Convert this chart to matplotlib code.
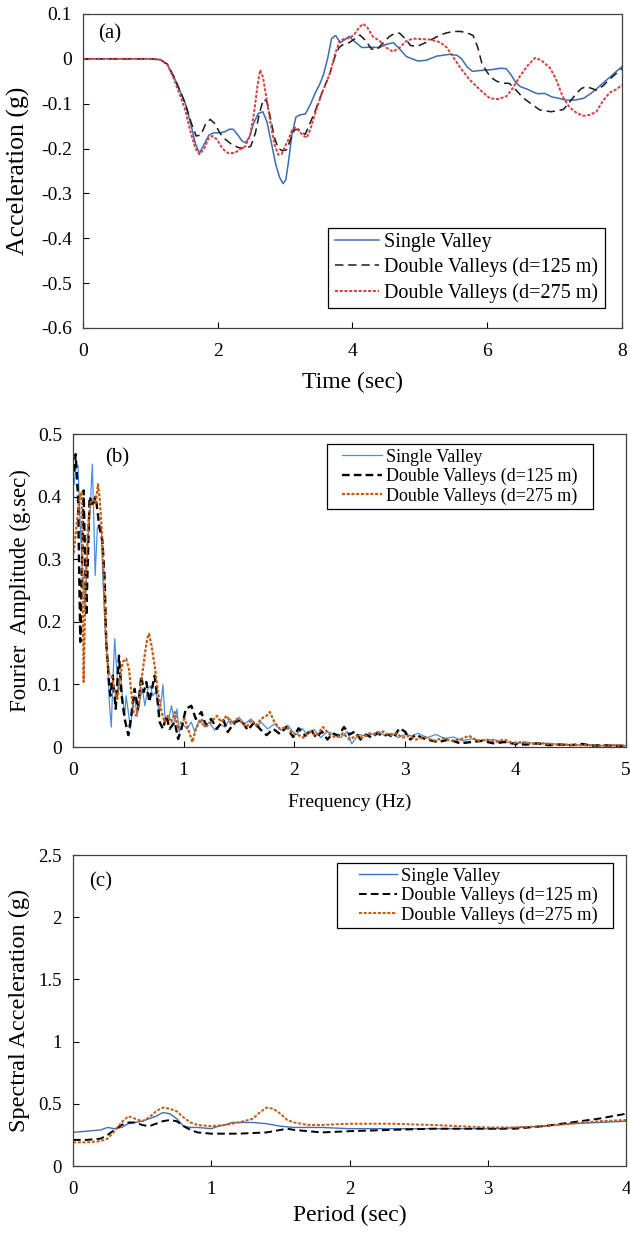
import matplotlib
matplotlib.use("Agg")
import matplotlib.pyplot as plt
from matplotlib.lines import Line2D
from matplotlib.legend_handler import HandlerLine2D

plt.rcParams.update({
    "font.family": ["Liberation Serif", "DejaVu Serif"],
    "lines.scale_dashes": False,
    "axes.linewidth": 0.9,
    "axes.edgecolor": "#404040",
})

LABELS = ["Single Valley", "Double Valleys (d=125 m)", "Double Valleys (d=275 m)"]

# ---------------------------------------------------------------- (a) time history
t_single = [0, 1.0, 1.15, 1.25, 1.35, 1.45, 1.52, 1.6, 1.67, 1.73, 1.8, 1.87, 1.94, 2.02, 2.1,
            2.17, 2.23, 2.3, 2.36, 2.41, 2.47, 2.53, 2.6, 2.67, 2.73, 2.8, 2.86, 2.92, 2.97, 3.01,
            3.05, 3.1, 3.16, 3.22, 3.3, 3.38, 3.45, 3.51, 3.57, 3.63, 3.69, 3.75, 3.82, 3.88, 3.95,
            4.02, 4.14, 4.27, 4.4, 4.5, 4.61, 4.7, 4.8, 4.97, 5.1, 5.25, 5.44, 5.55, 5.62, 5.7,
            5.78, 5.9, 6.07, 6.2, 6.28, 6.35, 6.42, 6.49, 6.6, 6.68, 6.75, 6.85, 6.96, 7.06, 7.16,
            7.3, 7.43, 7.53, 7.63, 7.75, 7.88, 8.0]
a_single = [0, 0, -0.002, -0.012, -0.04, -0.075, -0.1, -0.145, -0.19, -0.21, -0.19, -0.17, -0.165,
            -0.165, -0.163, -0.157, -0.157, -0.17, -0.183, -0.187, -0.175, -0.145, -0.122, -0.118,
            -0.14, -0.19, -0.235, -0.265, -0.278, -0.27, -0.23, -0.17, -0.13, -0.125, -0.123, -0.1,
            -0.075, -0.058, -0.035, 0.0, 0.045, 0.052, 0.036, 0.042, 0.05, 0.04, 0.025, 0.026, 0.025,
            0.032, 0.036, 0.022, 0.005, -0.005, -0.003, 0.006, 0.01, 0.008, 0.0, -0.018, -0.028,
            -0.026, -0.024, -0.021, -0.022, -0.035, -0.052, -0.062, -0.068, -0.074, -0.078, -0.077,
            -0.085, -0.088, -0.092, -0.092, -0.088, -0.078, -0.066, -0.05, -0.033, -0.017]

t_d125 = [0, 1.0, 1.15, 1.25, 1.35, 1.45, 1.52, 1.6, 1.68, 1.75, 1.82, 1.89, 1.96, 2.03, 2.1, 2.2,
          2.31, 2.4, 2.49, 2.56, 2.62, 2.68, 2.73, 2.78, 2.84, 2.9, 2.96, 3.02, 3.08, 3.14, 3.2,
          3.25, 3.3, 3.38, 3.45, 3.51, 3.59, 3.67, 3.74, 3.8, 3.87, 3.95, 4.04, 4.11, 4.2, 4.28,
          4.36, 4.45, 4.55, 4.63, 4.7, 4.78, 4.86, 4.95, 5.07, 5.2, 5.3, 5.4, 5.5, 5.6, 5.7, 5.79,
          5.86, 5.92, 5.99, 6.06, 6.14, 6.23, 6.33, 6.43, 6.53, 6.65, 6.78, 6.95, 7.13, 7.23, 7.33,
          7.4, 7.47, 7.55, 7.62, 7.72, 7.82, 7.92, 8.0]
a_d125 = [0, 0, -0.002, -0.012, -0.04, -0.075, -0.1, -0.14, -0.172, -0.17, -0.145, -0.135, -0.145,
          -0.165, -0.178, -0.19, -0.198, -0.2, -0.195, -0.165, -0.12, -0.09, -0.095, -0.13, -0.175,
          -0.2, -0.205, -0.203, -0.18, -0.158, -0.157, -0.165, -0.168, -0.14, -0.115, -0.09, -0.06,
          -0.03, 0.005, 0.025, 0.033, 0.036, 0.045, 0.053, 0.04, 0.022, 0.02, 0.035, 0.05, 0.057,
          0.057, 0.045, 0.03, 0.027, 0.035, 0.045, 0.053, 0.058, 0.061, 0.061, 0.058, 0.052, 0.025,
          -0.01, -0.028, -0.042, -0.05, -0.054, -0.055, -0.07, -0.087, -0.1, -0.114, -0.118,
          -0.113, -0.095, -0.076, -0.066, -0.062, -0.066, -0.07, -0.06, -0.045, -0.032, -0.022]

t_d275 = [0, 1.0, 1.15, 1.25, 1.35, 1.45, 1.52, 1.6, 1.67, 1.73, 1.8, 1.86, 1.92, 1.99, 2.07, 2.15,
          2.25, 2.35, 2.41, 2.48, 2.54, 2.59, 2.63, 2.67, 2.72, 2.78, 2.84, 2.9, 2.95, 3.0, 3.05,
          3.1, 3.15, 3.2, 3.26, 3.32, 3.38, 3.46, 3.55, 3.62, 3.67, 3.74, 3.81, 3.9, 3.96, 4.03,
          4.1, 4.16, 4.22, 4.3, 4.41, 4.5, 4.6, 4.7, 4.8, 4.9, 5.02, 5.15, 5.3, 5.4, 5.49, 5.6,
          5.74, 5.9, 6.04, 6.16, 6.29, 6.38, 6.48, 6.6, 6.71, 6.8, 6.93, 7.02, 7.12, 7.22, 7.33,
          7.43, 7.52, 7.62, 7.72, 7.82, 7.92, 8.0]
a_d275 = [0, 0, -0.002, -0.012, -0.045, -0.085, -0.115, -0.165, -0.2, -0.213, -0.2, -0.178, -0.172,
          -0.18, -0.2, -0.21, -0.21, -0.2, -0.195, -0.17, -0.12, -0.06, -0.025, -0.04, -0.085,
          -0.14, -0.19, -0.214, -0.212, -0.195, -0.18, -0.16, -0.153, -0.16, -0.17, -0.176, -0.155,
          -0.115, -0.075, -0.05, -0.03, 0.01, 0.04, 0.046, 0.046, 0.055, 0.07, 0.078, 0.07, 0.05,
          0.039, 0.025, 0.016, 0.025, 0.04, 0.045, 0.044, 0.043, 0.037, 0.025, 0.005, -0.02,
          -0.047, -0.07, -0.088, -0.09, -0.083, -0.065, -0.04, -0.015, 0.002, -0.003, -0.02,
          -0.045, -0.084, -0.108, -0.121, -0.127, -0.125, -0.118, -0.093, -0.075, -0.068, -0.058]

# ---------------------------------------------------------------- (b) Fourier amplitude
f_single = [0.01, 0.024, 0.045, 0.066, 0.084, 0.108, 0.133, 0.157, 0.175, 0.19, 0.2, 0.22, 0.235,
            0.256, 0.27, 0.29, 0.31, 0.33, 0.346, 0.36, 0.377, 0.39, 0.41, 0.428, 0.446, 0.467,
            0.48, 0.5, 0.52, 0.536, 0.557, 0.578, 0.6, 0.626, 0.65, 0.675, 0.7, 0.72, 0.75, 0.777,
            0.8, 0.813, 0.83, 0.86, 0.89, 0.92, 0.94, 0.96, 0.99, 1.03, 1.07, 1.1, 1.14, 1.19,
            1.23, 1.28, 1.33, 1.37, 1.42, 1.46, 1.5, 1.55, 1.61, 1.66, 1.7, 1.76, 1.82, 1.88, 1.94,
            1.99, 2.02, 2.07, 2.12, 2.18, 2.24, 2.3, 2.36, 2.42, 2.48, 2.52, 2.58, 2.64, 2.7, 2.76,
            2.82, 2.88, 2.94, 3.0, 3.06, 3.12, 3.2, 3.28, 3.36, 3.44, 3.52, 3.6, 3.7, 3.8, 3.9,
            4.0, 4.1, 4.2, 4.3, 4.4, 4.5, 4.6, 4.7, 4.8, 4.9, 5.0]
A_single = [0.42, 0.444, 0.45, 0.35, 0.285, 0.22, 0.32, 0.39, 0.452, 0.35, 0.274, 0.35, 0.356,
            0.348, 0.27, 0.19, 0.14, 0.066, 0.032, 0.104, 0.173, 0.136, 0.088, 0.12, 0.082, 0.05,
            0.082, 0.056, 0.029, 0.061, 0.082, 0.05, 0.072, 0.093, 0.066, 0.093, 0.098, 0.082,
            0.088, 0.056, 0.077, 0.1, 0.05, 0.04, 0.066, 0.04, 0.061, 0.024, 0.037, 0.029, 0.04,
            0.024, 0.043, 0.032, 0.04, 0.027, 0.037, 0.032, 0.045, 0.035, 0.048, 0.037, 0.045,
            0.032, 0.04, 0.029, 0.037, 0.027, 0.035, 0.024, 0.02, 0.03, 0.02, 0.028, 0.015, 0.025,
            0.02, 0.015, 0.025, 0.005, 0.02, 0.018, 0.02, 0.025, 0.018, 0.022, 0.015, 0.02, 0.018,
            0.022, 0.015, 0.02, 0.014, 0.016, 0.01, 0.013, 0.01, 0.012, 0.008, 0.006, 0.008, 0.005,
            0.006, 0.004, 0.004, 0.003, 0.004, 0.002, 0.003, 0.002]

f_d125 = [0.01, 0.024, 0.045, 0.066, 0.096, 0.12, 0.15, 0.18, 0.205, 0.24, 0.265, 0.286, 0.3,
          0.325, 0.337, 0.36, 0.386, 0.416, 0.44, 0.467, 0.5, 0.527, 0.557, 0.587, 0.617, 0.64,
          0.663, 0.69, 0.738, 0.76, 0.783, 0.813, 0.843, 0.873, 0.92, 0.95, 0.98, 1.02, 1.07,
          1.11, 1.16, 1.2, 1.25, 1.3, 1.36, 1.4, 1.46, 1.52, 1.58, 1.64, 1.69, 1.75, 1.81, 1.87,
          1.93, 1.99, 2.04, 2.1, 2.15, 2.2, 2.25, 2.3, 2.35, 2.4, 2.45, 2.5, 2.55, 2.6, 2.65, 2.7,
          2.75, 2.8, 2.85, 2.9, 2.95, 3.0, 3.05, 3.1, 3.15, 3.2, 3.3, 3.4, 3.5, 3.6, 3.7, 3.8,
          3.9, 4.0, 4.1, 4.2, 4.3, 4.4, 4.5, 4.6, 4.7, 4.8, 4.9, 5.0]
A_d125 = [0.44, 0.468, 0.40, 0.168, 0.41, 0.21, 0.40, 0.385, 0.40, 0.35, 0.33, 0.27, 0.17, 0.104,
          0.082, 0.114, 0.061, 0.146, 0.082, 0.045, 0.019, 0.05, 0.093, 0.061, 0.114, 0.088,
          0.104, 0.072, 0.114, 0.082, 0.04, 0.029, 0.05, 0.029, 0.04, 0.013, 0.029, 0.061, 0.066,
          0.045, 0.056, 0.035, 0.045, 0.029, 0.043, 0.024, 0.04, 0.043, 0.027, 0.04, 0.029, 0.019,
          0.029, 0.021, 0.032, 0.016, 0.03, 0.018, 0.028, 0.015, 0.025, 0.012, 0.022, 0.018, 0.032,
          0.02, 0.025, 0.012, 0.02, 0.015, 0.022, 0.018, 0.02, 0.015, 0.03, 0.025, 0.012, 0.02,
          0.015, 0.012, 0.008, 0.012, 0.006, 0.008, 0.01, 0.006, 0.008, 0.005, 0.004, 0.006,
          0.003, 0.004, 0.003, 0.005, 0.002, 0.003, 0.002, 0.002]

f_d275 = [0.006, 0.03, 0.06, 0.078, 0.096, 0.114, 0.135, 0.157, 0.18, 0.205, 0.226, 0.24, 0.265,
          0.286, 0.307, 0.33, 0.355, 0.377, 0.4, 0.42, 0.45, 0.48, 0.506, 0.527, 0.548, 0.572,
          0.596, 0.617, 0.648, 0.67, 0.687, 0.71, 0.738, 0.768, 0.8, 0.828, 0.858, 0.889, 0.92,
          0.95, 0.98, 1.01, 1.04, 1.08, 1.11, 1.16, 1.2, 1.25, 1.3, 1.34, 1.39, 1.43, 1.48, 1.52,
          1.57, 1.61, 1.66, 1.7, 1.75, 1.78, 1.82, 1.87, 1.93, 1.99, 2.03, 2.08, 2.14, 2.2, 2.26,
          2.32, 2.38, 2.44, 2.5, 2.56, 2.62, 2.68, 2.74, 2.8, 2.86, 2.92, 2.98, 3.04, 3.1, 3.18,
          3.26, 3.34, 3.42, 3.5, 3.58, 3.66, 3.74, 3.82, 3.9, 3.98, 4.06, 4.15, 4.25, 4.35, 4.45,
          4.55, 4.65, 4.75, 4.85, 5.0]
A_d275 = [0.31, 0.35, 0.40, 0.407, 0.104, 0.27, 0.35, 0.39, 0.396, 0.39, 0.42, 0.40, 0.332, 0.231,
          0.141, 0.114, 0.112, 0.088, 0.077, 0.104, 0.136, 0.141, 0.125, 0.088, 0.056, 0.05, 0.066,
          0.104, 0.146, 0.173, 0.181, 0.162, 0.13, 0.088, 0.056, 0.04, 0.05, 0.04, 0.056, 0.029,
          0.04, 0.045, 0.029, 0.008, 0.029, 0.045, 0.032, 0.04, 0.05, 0.04, 0.05, 0.037, 0.045,
          0.04, 0.032, 0.043, 0.035, 0.045, 0.05, 0.056, 0.04, 0.029, 0.032, 0.021, 0.02, 0.015,
          0.025, 0.018, 0.032, 0.02, 0.015, 0.022, 0.012, 0.018, 0.015, 0.022, 0.02, 0.025, 0.018,
          0.022, 0.015, 0.018, 0.012, 0.016, 0.01, 0.014, 0.01, 0.012, 0.018, 0.01, 0.012, 0.008,
          0.012, 0.006, 0.008, 0.005, 0.006, 0.004, 0.004, 0.003, 0.003, 0.002, 0.003, 0.002]

# ---------------------------------------------------------------- (c) response spectra
T_single = [0, 0.1, 0.2, 0.25, 0.3, 0.35, 0.4, 0.45, 0.5, 0.55, 0.6, 0.65, 0.7, 0.75, 0.8, 0.85,
            0.9, 1.0, 1.05, 1.1, 1.15, 1.2, 1.3, 1.4, 1.5, 1.6, 1.8, 2.0, 2.3, 2.6, 2.9, 3.1, 3.2,
            3.4, 3.6, 3.8, 4.0]
Sa_single = [0.27, 0.28, 0.29, 0.31, 0.30, 0.31, 0.34, 0.35, 0.36, 0.38, 0.40, 0.43, 0.42, 0.38,
             0.32, 0.31, 0.31, 0.30, 0.32, 0.33, 0.35, 0.35, 0.35, 0.34, 0.32, 0.31, 0.31, 0.30,
             0.30, 0.30, 0.30, 0.30, 0.31, 0.32, 0.34, 0.35, 0.36]

T_d125 = [0, 0.1, 0.2, 0.25, 0.3, 0.35, 0.4, 0.45, 0.5, 0.55, 0.6, 0.65, 0.7, 0.75, 0.8, 0.85, 0.9,
          1.0, 1.2, 1.4, 1.5, 1.55, 1.6, 1.7, 1.8, 2.0, 2.3, 2.6, 3.0, 3.2, 3.4, 3.6, 3.8, 4.0]
Sa_d125 = [0.21, 0.21, 0.22, 0.25, 0.29, 0.33, 0.35, 0.35, 0.33, 0.32, 0.34, 0.36, 0.37, 0.36,
           0.32, 0.29, 0.27, 0.26, 0.26, 0.27, 0.29, 0.30, 0.29, 0.28, 0.27, 0.28, 0.29, 0.30,
           0.30, 0.30, 0.32, 0.35, 0.38, 0.42]

T_d275 = [0, 0.1, 0.2, 0.25, 0.3, 0.35, 0.4, 0.45, 0.5, 0.55, 0.6, 0.65, 0.7, 0.75, 0.8, 0.85, 0.9,
          1.0, 1.1, 1.2, 1.3, 1.35, 1.4, 1.45, 1.5, 1.55, 1.6, 1.7, 1.8, 2.0, 2.3, 2.6, 3.0, 3.2,
          3.4, 3.6, 3.8, 4.0]
Sa_d275 = [0.19, 0.19, 0.20, 0.22, 0.28, 0.35, 0.40, 0.38, 0.36, 0.39, 0.44, 0.47, 0.46, 0.44,
           0.39, 0.35, 0.33, 0.32, 0.33, 0.35, 0.38, 0.43, 0.47, 0.46, 0.42, 0.37, 0.35, 0.33,
           0.33, 0.34, 0.34, 0.33, 0.31, 0.31, 0.32, 0.34, 0.36, 0.37]


def style_axes(ax, tick_fs):
    ax.tick_params(direction="in", length=4, width=0.8, labelsize=tick_fs, colors="black")
    ax.tick_params(axis="x", pad=11)
    ax.tick_params(axis="y", pad=8)
    for s in ax.spines.values():
        s.set_color("#404040")


def add_legend(ax, fs, box, xpad, hlen, spacing):
    # box = (x0, top, width) in axes fraction; extra width goes to the right of the text
    x0, top, w = box
    leg = ax.legend(LABELS, loc="upper left", bbox_to_anchor=(x0, top, w, 0), mode="expand",
                    fontsize=fs, frameon=True, fancybox=False, edgecolor="black", framealpha=1,
                    borderaxespad=0, handlelength=hlen, handletextpad=0.22, labelspacing=spacing,
                    borderpad=0.25, handler_map={Line2D: HandlerLine2D(xpad=xpad)})
    leg.get_frame().set_linewidth(0.9)


fig = plt.figure(figsize=(6.3, 12.34), dpi=100)

# (a)
ax = fig.add_axes([0.1317, 0.7342, 0.8556, 0.2545])
ax.plot(t_single, a_single, color="#3a6db3", lw=1.1)
ax.plot(t_d125, a_d125, color="#1a1a1a", lw=1.1, dashes=(6, 3.5))
ax.plot(t_d275, a_d275, color="#dc3c3c", lw=1.4, dashes=(2.2, 1.2))
ax.set_xlim(0, 8); ax.set_ylim(-0.6, 0.1)
ax.set_xticks([0, 2, 4, 6, 8])
ax.set_yticks([-0.6, -0.5, -0.4, -0.3, -0.2, -0.1, 0, 0.1])
ax.set_yticklabels(["-0.6", "-0.5", "-0.4", "-0.3", "-0.2", "-0.1", "0", "0.1"])
style_axes(ax, 14)
ax.set_xlabel("Time (sec)", fontsize=17)
ax.set_ylabel("Acceleration (g)", fontsize=18.5)
ax.xaxis.set_label_coords(0.5, -0.14)
ax.yaxis.set_label_coords(-0.098, 0.5)
ax.text(0.05, 0.935, "(a)", transform=ax.transAxes, fontsize=15, ha="center", va="center")
add_legend(ax, 14.5, (0.4545, 0.32, 0.514), 0.1, 2.3, 0.3)

# (b)
ax = fig.add_axes([0.1159, 0.3946, 0.8778, 0.2536])
ax.plot(f_single, A_single, color="#4a8ee0", lw=0.9)
ax.plot(f_d125, A_d125, color="black", lw=1.7, dashes=(5.5, 3))
ax.plot(f_d275, A_d275, color="#c55a11", lw=1.6, dashes=(2.2, 1.2))
ax.set_xlim(0, 5); ax.set_ylim(0, 0.5)
ax.set_xticks([0, 1, 2, 3, 4, 5])
ax.set_yticks([0, 0.1, 0.2, 0.3, 0.4, 0.5])
ax.set_yticklabels(["0", "0.1", "0.2", "0.3", "0.4", "0.5"])
style_axes(ax, 14)
ax.set_xlabel("Frequency (Hz)", fontsize=14)
ax.set_ylabel("Fourier  Amplitude (g.sec)", fontsize=16.5)
ax.xaxis.set_label_coords(0.5, -0.15)
ax.yaxis.set_label_coords(-0.076, 0.5)
ax.text(0.08, 0.925, "(b)", transform=ax.transAxes, fontsize=15, ha="center", va="center")
add_legend(ax, 13, (0.4593, 0.968, 0.481), 0.58, 2.8, 0.12)

# (c)
ax = fig.add_axes([0.1159, 0.0551, 0.8778, 0.252])
ax.plot(T_single, Sa_single, color="#3f6fb5", lw=1.0)
ax.plot(T_d125, Sa_d125, color="black", lw=1.4, dashes=(5.5, 3))
ax.plot(T_d275, Sa_d275, color="#c55a11", lw=1.4, dashes=(2.2, 1.2))
ax.set_xlim(0, 4); ax.set_ylim(0, 2.5)
ax.set_xticks([0, 1, 2, 3, 4])
ax.set_yticks([0, 0.5, 1, 1.5, 2, 2.5])
ax.set_yticklabels(["0", "0.5", "1", "1.5", "2", "2.5"])
style_axes(ax, 13.5)
ax.set_xlabel("Period (sec)", fontsize=17)
ax.set_ylabel("Spectral Acceleration (g)", fontsize=17.5)
ax.xaxis.set_label_coords(0.5, -0.125)
ax.yaxis.set_label_coords(-0.078, 0.5)
ax.text(0.05, 0.915, "(c)", transform=ax.transAxes, fontsize=15, ha="center", va="center")
add_legend(ax, 13.3, (0.4774, 0.974, 0.499), 0.94, 3.0, 0.12)

fig.savefig("out.png", dpi=100, facecolor="white")
